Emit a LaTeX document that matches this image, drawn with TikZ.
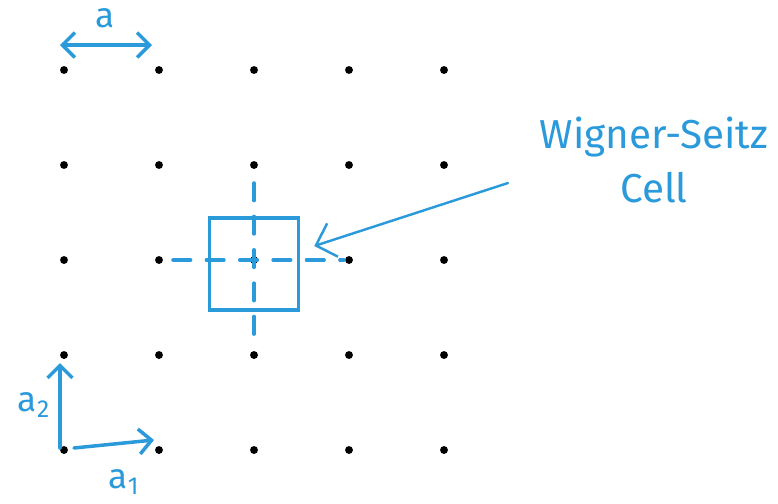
\documentclass[tikz,border=0pt]{standalone}
\usepackage{fontspec}
\setsansfont{Fira Sans}
\usepackage{tikz}
\usetikzlibrary{arrows.meta,positioning,calc}
\definecolor{pen}{HTML}{2B9ADB}

\begin{document}
\begin{tikzpicture}[x=0.02cm,y=-0.02cm,dot/.style={circle,fill=black,inner sep=0pt,minimum size=4.5pt},ink/.style={draw=pen,line width=2pt,line cap=round},lbl/.style={text=pen,font=\sffamily\fontsize{20}{26}\selectfont,align=center,inner sep=0pt}]
\useasboundingbox (0,0) rectangle (778,504);
% lattice points
\foreach \i in {0,...,4} \foreach \j in {0,...,4} \node[dot] (d\i\j) at ({64+95*\i},{70+95*\j}) {};
% lattice constant
\node[lbl] (alab) at (105,18) {a};
\draw[ink,{Straight Barb[length=2.5mm]}-{Straight Barb[length=2.5mm]}] ($(d00)+(-4,-25)$) -- ($(d10)+(-7,-25)$);
% primitive vectors
\draw[ink,-{Straight Barb[length=2.5mm]}] ($(d04)+(-4,-2)$) -- ($(d03)+(-4,8)$);
\draw[ink,-{Straight Barb[length=2.5mm]}] ($(d04)+(10,-2)$) -- ($(d14)+(-5,-10)$);
\node[lbl] (a2lab) at (34,405) {a\textsubscript{2}};
\node[lbl] (a1lab) at (124,482) {a\textsubscript{1}};
% Wigner-Seitz cell
\node[ink,minimum width=1.78cm,minimum height=1.84cm,inner sep=0pt] (cell) at ($(d22)+(0,4)$) {};
\draw[ink,dash pattern=on 10pt off 9pt] ($(d12)+(14,0)$) -- ($(d32)+(-5,0)$);
\draw[ink,dash pattern=on 10pt off 9pt] ($(d21)+(0,18)$) -- ($(d23)+(0,-10)$);
\node[lbl,font=\sffamily\fontsize{23}{31}\selectfont] (ws) at (654,160) {Wigner-Seitz\\Cell};
\coordinate (tail) at (508,183);
\draw[ink,line width=1.4pt,-{Straight Barb[length=3.5mm]}] (tail) -- ($(cell.east)+(14,-18)$);
\end{tikzpicture}
\end{document}
